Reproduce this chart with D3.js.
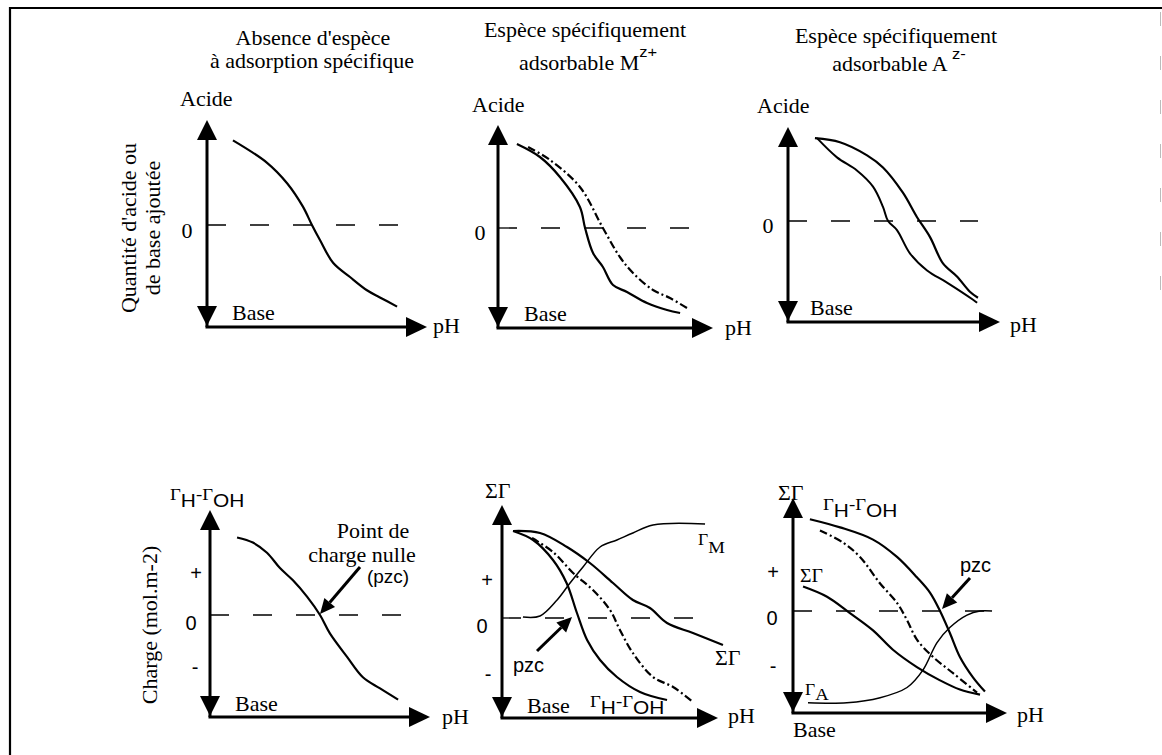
<!DOCTYPE html>
<html><head><meta charset="utf-8">
<script src="https://cdn.jsdelivr.net/npm/d3@7"></script>
<style>html,body{margin:0;padding:0;background:#fff;}svg{display:block;}</style>
</head><body>
<script>
// ---------------- DATA (pH in relative units 0-10, y relative: 0 = dashed line, -1 = pH axis) ----------------
// Panel 1 : Absence d'espèce à adsorption spécifique
const p1_pH = [1.18, 2.73, 3.64, 4.36, 4.77, 5.14, 5.73, 6.50, 7.27, 7.86, 8.64];
const p1_q  = [0.83, 0.61, 0.41, 0.18, 0.00, -0.15, -0.37, -0.51, -0.64, -0.71, -0.80];
// Panel 2 : Espèce spécifiquement adsorbable M z+
const p2_pH_solid = [0.88, 1.95, 2.88, 3.81, 4.05, 4.42, 4.88, 5.35, 6.00, 6.93, 7.86, 8.47];
const p2_q_solid  = [0.84, 0.71, 0.51, 0.21, 0.00, -0.25, -0.39, -0.57, -0.64, -0.75, -0.82, -0.85];
const p2_pH_dash  = [1.40, 2.42, 3.81, 4.88, 5.67, 6.28, 7.21, 8.00, 8.79];
const p2_q_dash   = [0.81, 0.68, 0.41, 0.00, -0.29, -0.45, -0.62, -0.70, -0.80];
// Panel 3 : Espèce spécifiquement adsorbable A z-
const p3_pH_upper = [1.27, 2.45, 3.73, 4.48, 5.42, 6.08, 6.70, 7.31, 7.97, 8.58, 8.96];
const p3_q_upper  = [0.82, 0.78, 0.65, 0.53, 0.28, 0.04, -0.16, -0.42, -0.55, -0.70, -0.76];
const p3_pH_lower = [1.37, 2.31, 3.25, 4.01, 4.48, 4.72, 5.14, 5.75, 6.56, 7.50, 8.73, 8.92];
const p3_q_lower  = [0.82, 0.63, 0.50, 0.34, 0.14, 0.00, -0.09, -0.32, -0.49, -0.61, -0.78, -0.81];
// Panel 4 : charge, no specific adsorption
const p4_pH     = [1.23, 1.95, 2.59, 3.18, 3.77, 4.41, 5.00, 5.45, 6.23, 6.95, 7.73, 8.55];
const p4_charge = [0.76, 0.71, 0.61, 0.46, 0.34, 0.18, 0.00, -0.18, -0.41, -0.61, -0.72, -0.83];
// Panel 5 : charge, M z+
const p5_pH_gM    = [0.97, 1.76, 2.55, 3.15, 3.75, 4.54, 5.32, 6.06, 6.99, 9.40];
const p5_gM       = [0.01, 0.02, 0.18, 0.35, 0.51, 0.71, 0.78, 0.85, 0.93, 0.94];
const p5_pH_sum   = [0.51, 1.76, 3.01, 4.07, 5.14, 6.06, 6.85, 7.64, 8.84, 10.23];
const p5_sum      = [0.87, 0.85, 0.71, 0.55, 0.35, 0.18, 0.10, -0.05, -0.15, -0.27];
const p5_pH_gHOH  = [0.51, 1.44, 2.36, 2.99, 3.47, 3.94, 4.54, 5.32, 6.39, 7.64];
const p5_gHOH     = [0.87, 0.78, 0.58, 0.35, 0.05, -0.22, -0.42, -0.59, -0.74, -0.82];
const p5_pH_dash  = [1.39, 2.36, 3.29, 4.21, 5.00, 5.46, 6.06, 6.99, 7.92, 8.84];
const p5_dash     = [0.80, 0.66, 0.45, 0.28, 0.08, -0.12, -0.35, -0.59, -0.69, -0.84];
// Panel 6 : charge, A z-
const p6_pH_gHOH  = [0.79, 2.20, 3.74, 4.86, 5.79, 6.40, 6.87, 7.34, 7.80, 8.41, 8.97];
const p6_gHOH     = [0.90, 0.82, 0.70, 0.53, 0.33, 0.18, 0.00, -0.22, -0.45, -0.65, -0.79];
const p6_pH_dash  = [1.26, 2.34, 3.13, 4.07, 4.86, 5.33, 5.79, 6.54, 7.48, 8.60];
const p6_dash     = [0.79, 0.67, 0.53, 0.27, 0.08, -0.09, -0.28, -0.45, -0.61, -0.80];
const p6_pH_sum   = [0.47, 1.59, 2.66, 3.74, 4.67, 5.79, 6.87, 7.80, 8.74];
const p6_sum      = [0.24, 0.14, -0.02, -0.19, -0.38, -0.55, -0.68, -0.77, -0.82];
const p6_pH_gA    = [0.70, 2.52, 4.07, 5.33, 6.07, 6.73, 7.34, 8.13, 8.74, 9.30];
const p6_gA       = [-0.90, -0.90, -0.85, -0.75, -0.58, -0.31, -0.16, -0.04, 0.00, 0.00];

// ---------------- LAYOUT ----------------
const W = 1162, H = 755;
const SERIF = "'Liberation Serif','Times New Roman',Times,serif";
const SANS  = "'Liberation Sans',Arial,Helvetica,sans-serif";
const FS = 20;

const panels = [
  {ox:207, oy:327, zeroY:225, topY:120, tipX:427, dashEnd:400,
   series:[{x:p1_pH, y:p1_q, style:'solid'}]},
  {ox:498, oy:328, zeroY:228, topY:125, tipX:713, dashEnd:690,
   series:[{x:p2_pH_solid, y:p2_q_solid, style:'solid'},{x:p2_pH_dash, y:p2_q_dash, style:'dashdot'}]},
  {ox:788, oy:322, zeroY:221, topY:127, tipX:1000, dashEnd:978,
   series:[{x:p3_pH_upper, y:p3_q_upper, style:'solid'},{x:p3_pH_lower, y:p3_q_lower, style:'rough'}]},
  {ox:210, oy:717, zeroY:615, topY:510, tipX:430, dashEnd:405,
   series:[{x:p4_pH, y:p4_charge, style:'solid'}]},
  {ox:502, oy:718, zeroY:618, topY:505, tipX:718, dashEnd:693,
   series:[{x:p5_pH_gM, y:p5_gM, style:'thin'},{x:p5_pH_sum, y:p5_sum, style:'solid'},
           {x:p5_pH_gHOH, y:p5_gHOH, style:'solid'},{x:p5_pH_dash, y:p5_dash, style:'dashdot'}]},
  {ox:793, oy:713, zeroY:611, topY:498, tipX:1007, dashEnd:992,
   series:[{x:p6_pH_gHOH, y:p6_gHOH, style:'solid'},{x:p6_pH_dash, y:p6_dash, style:'dashdot'},
           {x:p6_pH_sum, y:p6_sum, style:'solid'},{x:p6_pH_gA, y:p6_gA, style:'thin'}]}
];

const styles = {
  solid:  {w:2.2, dash:null},
  rough:  {w:2.0, dash:null},
  dashdot:{w:2.2, dash:'8,3,2,3'},
  thin:   {w:1.5, dash:null}
};

const svg = d3.select('body').append('svg').attr('width', W).attr('height', H);
svg.append('rect').attr('width', W).attr('height', H).attr('fill', '#fff');

// frame
svg.append('line').attr('x1',10).attr('y1',7).attr('x2',10).attr('y2',H).attr('stroke','#000').attr('stroke-width',2.2);
svg.append('line').attr('x1',9).attr('y1',8).attr('x2',W).attr('y2',8).attr('stroke','#000').attr('stroke-width',2.2);
svg.append('line').attr('x1',1160.5).attr('y1',12).attr('x2',1160.5).attr('y2',290).attr('stroke','#bbb').attr('stroke-width',1).attr('stroke-dasharray','14,30');

function txt(x, y, parts, anchor, rot, sx) {
  anchor = anchor || 'start'; sx = sx || 1.1;
  const t = svg.append('text')
    .attr('transform', `translate(${x},${y})${rot ? ` rotate(${rot})` : ''} scale(${sx},1)`)
    .attr('text-anchor', anchor).attr('fill', '#000');
  let cur = 0;
  parts.forEach(p => {
    const [s, fam, size, off] = p;
    const o = off || 0;
    t.append('tspan').attr('font-family', fam).attr('font-size', size).attr('dy', o - cur).text(s);
    cur = o;
  });
  return t;
}
const S = (s, size, off) => [s, SERIF, size || FS, off || 0];
const N = (s, size, off) => [s, SANS, size || FS, off || 0];

panels.forEach(p => {
  const x = d3.scaleLinear().domain([0, 10]).range([p.ox, p.tipX]);
  const y = d3.scaleLinear().domain([-1, 0]).range([p.oy, p.zeroY]);
  p.x = x; p.y = y;
  const g = svg.append('g');
  // zero dashed line
  g.append('line').attr('x1', p.ox).attr('x2', p.dashEnd).attr('y1', y(0)).attr('y2', y(0))
    .attr('stroke', '#000').attr('stroke-width', 1.3).attr('stroke-dasharray', '19,24');
  // y axis
  g.append('line').attr('x1', p.ox).attr('x2', p.ox).attr('y1', p.topY + 12).attr('y2', p.oy)
    .attr('stroke', '#000').attr('stroke-width', 3);
  g.append('path').attr('d', `M${p.ox},${p.topY}L${p.ox-10},${p.topY+20}L${p.ox+10},${p.topY+20}Z`).attr('fill', '#000');
  g.append('path').attr('d', `M${p.ox},${p.oy-1}L${p.ox-10},${p.oy-21}L${p.ox+10},${p.oy-21}Z`).attr('fill', '#000');
  // x axis
  g.append('line').attr('x1', p.ox - 1.5).attr('x2', p.tipX - 12).attr('y1', p.oy).attr('y2', p.oy)
    .attr('stroke', '#000').attr('stroke-width', 3);
  g.append('path').attr('d', `M${p.tipX},${p.oy}L${p.tipX-21},${p.oy-10}L${p.tipX-21},${p.oy+10}Z`).attr('fill', '#000');
  // curves
  const line = d3.line().x(d => x(d[0])).y(d => y(d[1])).curve(d3.curveCatmullRom.alpha(0.5));
  p.series.forEach(s => {
    const st = styles[s.style];
    const pts = s.x.map((v, i) => [v, s.y[i]]);
    const path = g.append('path').attr('d', line(pts)).attr('fill', 'none').attr('stroke', '#000')
      .attr('stroke-width', st.w).attr('stroke-linejoin', 'round');
    if (st.dash) path.attr('stroke-dasharray', st.dash);
  });
});

// pzc arrows
function arrow(x1, y1, x2, y2) {
  const a = Math.atan2(y2 - y1, x2 - x1), L = 15, hw = 7;
  const bx = x2 - L * Math.cos(a), by = y2 - L * Math.sin(a);
  svg.append('line').attr('x1', x1).attr('y1', y1).attr('x2', bx).attr('y2', by).attr('stroke', '#000').attr('stroke-width', 3);
  svg.append('path').attr('d', `M${x2},${y2}L${bx + hw*Math.sin(a)},${by - hw*Math.cos(a)}L${bx - hw*Math.sin(a)},${by + hw*Math.cos(a)}Z`).attr('fill', '#000');
}
arrow(360, 567, 320, 614);
arrow(537, 651, 572, 617);
arrow(970, 578, 942, 609);

// ---------------- TEXT ----------------
// titles
txt(313, 45, [S("Absence d'espèce")], 'middle');
txt(312, 68, [S("à adsorption spécifique")], 'middle');
txt(585, 37, [S("Espèce spécifiquement")], 'middle');
txt(588, 70, [S("adsorbable M"), N("z+", 15, -13)], 'middle');
txt(896, 43, [S("Espèce spécifiquement")], 'middle');
txt(899, 71, [S("adsorbable A "), N("z-", 15, -12)], 'middle');

// top row axis labels
[[180,106],[472,112],[757,113]].forEach(([a,b]) => txt(a, b, [S("Acide")]));
[[187,238],[480,240],[768,233]].forEach(([a,b]) => txt(a, b, [S("0")], 'middle'));
[[232,320],[524,321],[810,315]].forEach(([a,b]) => txt(a, b, [S("Base")]));
[[433,333],[725,335],[1010,332]].forEach(([a,b]) => txt(a, b, [S("pH")]));
txt(136, 228, [S("Quantité d'acide ou")], 'middle', -90);
txt(160, 228, [S("de base ajoutée")], 'middle', -90);

// bottom row axis labels
txt(157, 625, [S("Charge (mol.m-2)")], 'middle', -90);
[[196,580],[487,587],[773,579]].forEach(([a,b]) => txt(a, b, [N("+")], 'middle', 0, 1));
[[191,630],[482,633],[772,625]].forEach(([a,b]) => txt(a, b, [N("0")], 'middle', 0, 1));
[[195,674],[488,681],[773,673]].forEach(([a,b]) => txt(a, b, [N("-")], 'middle', 0, 1));
[[235,711],[527,713],[793,737]].forEach(([a,b]) => txt(a, b, [S("Base")]));
[[442,724],[728,723],[1017,722]].forEach(([a,b]) => txt(a, b, [S("pH")]));

// Gamma labels
const gHOH = [S("Γ", 17), N("H", 19, 7), S("-", 17, 0), S("Γ", 17, 0), N("OH", 19, 7)];
txt(170, 500, gHOH);
txt(590, 707, gHOH);
txt(823, 510, gHOH);
txt(485, 498, [S("ΣΓ")]);
txt(778, 500, [S("ΣΓ")]);
txt(715, 665, [S("ΣΓ")]);
txt(800, 582, [S("ΣΓ", 18)]);
txt(698, 545, [S("Γ", 16), S("M", 17, 8)]);
txt(805, 695, [S("Γ", 16), S("A", 17, 5)]);

// annotations
txt(373, 538, [S("Point de")], 'middle');
txt(362, 562, [S("charge nulle")], 'middle');
txt(388, 583, [N("(pzc)", 19)], 'middle', 0, 1);
txt(513, 672, [N("pzc", 20)], 'start', 0, 1);
txt(960, 572, [N("pzc", 20)], 'start', 0, 1);
</script>
</body></html>
